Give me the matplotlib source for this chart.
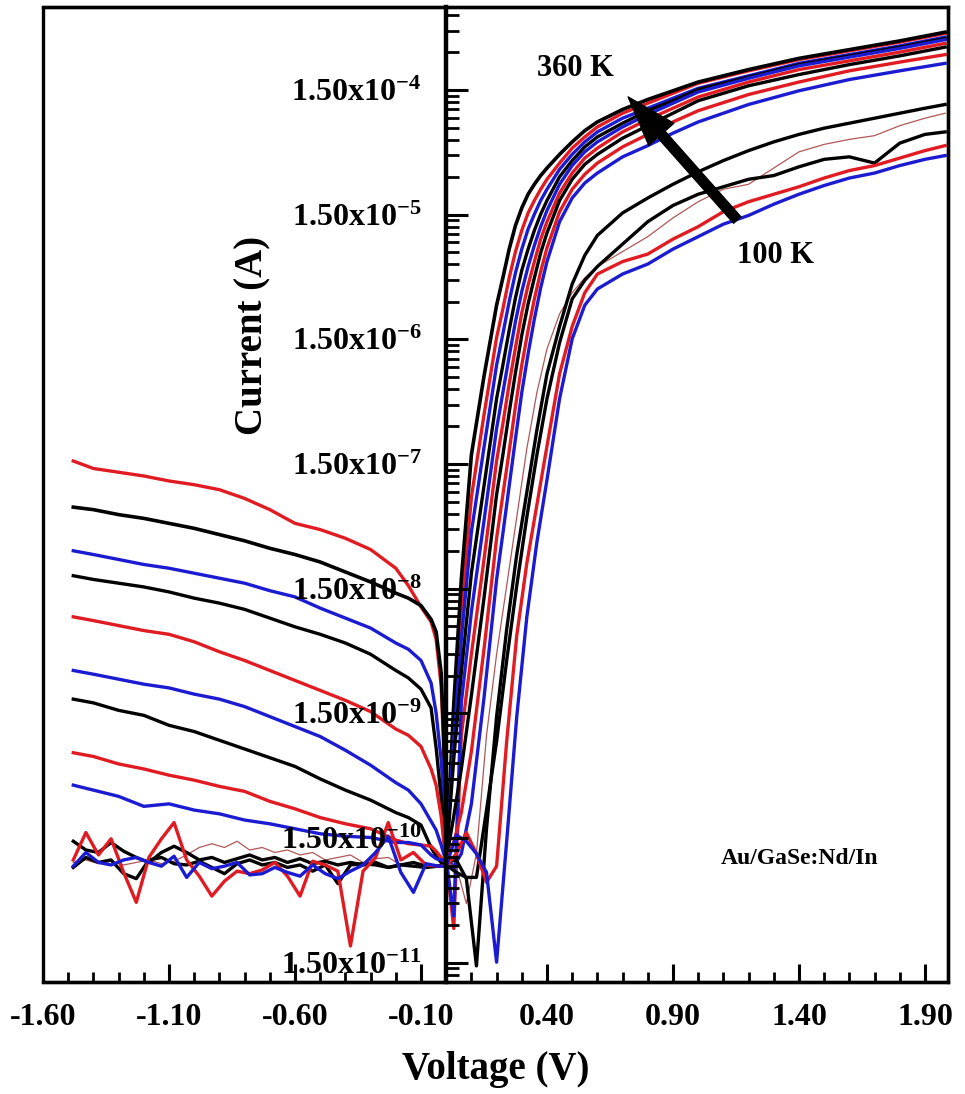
import matplotlib
matplotlib.use('Agg')
import matplotlib.pyplot as plt
from matplotlib.ticker import FixedLocator, MultipleLocator, NullFormatter

plt.rcParams['font.family'] = ['Liberation Serif', 'DejaVu Serif']
plt.rcParams['font.weight'] = 'bold'
plt.rcParams['mathtext.fontset'] = 'custom'
plt.rcParams['mathtext.rm'] = 'Liberation Serif:bold'
plt.rcParams['mathtext.bf'] = 'Liberation Serif:bold'
plt.rcParams['mathtext.it'] = 'Liberation Serif:bold:italic'

# ---------------- data (currents stored as log10(I / A)) ----------------
rev_voltage = [-1.48, -1.40, -1.30, -1.20, -1.10, -1.00, -0.90, -0.80, -0.70, -0.60,
               -0.50, -0.40, -0.30, -0.20, -0.15, -0.10, -0.06, -0.04, -0.02, -0.01]
noisy_voltage = [-1.48, -1.43, -1.38, -1.33, -1.28, -1.23, -1.18, -1.13, -1.08, -1.03,
                 -0.98, -0.93, -0.88, -0.83, -0.78, -0.73, -0.68, -0.63, -0.58, -0.53,
                 -0.48, -0.43, -0.38, -0.33, -0.28, -0.23, -0.18, -0.13, -0.08, -0.03]
fwd_voltage_hi = [0.00, 0.03, 0.06, 0.10, 0.15, 0.20, 0.225, 0.25, 0.275, 0.30, 0.325,
                  0.35, 0.375, 0.40, 0.45, 0.50, 0.55, 0.60, 0.70, 0.80, 0.90, 1.00,
                  1.20, 1.40, 1.60, 1.80, 1.98]
fwd_voltage_lo = [0.00, 0.04, 0.08, 0.12, 0.16, 0.20, 0.24, 0.28, 0.32, 0.36, 0.40,
                  0.45, 0.50, 0.55, 0.60, 0.70, 0.80, 0.90, 1.00, 1.10, 1.20, 1.30,
                  1.40, 1.50, 1.60, 1.70, 1.80, 1.90, 1.98]

c1_rev = [-6.80, -6.86, -6.89, -6.92, -6.96, -6.99, -7.03, -7.10, -7.19, -7.30,
          -7.35, -7.42, -7.51, -7.66, -7.80, -7.97, -8.09, -8.23, -8.60, -9.10]
c2_rev = [-7.17, -7.19, -7.23, -7.26, -7.30, -7.34, -7.39, -7.44, -7.50, -7.55,
          -7.61, -7.69, -7.77, -7.86, -7.90, -7.96, -8.07, -8.17, -8.50, -9.00]
c3_rev = [-7.52, -7.55, -7.59, -7.63, -7.66, -7.70, -7.74, -7.78, -7.84, -7.89,
          -7.98, -8.06, -8.14, -8.26, -8.31, -8.40, -8.58, -8.82, -9.20, -9.50]
c4_rev = [-7.72, -7.75, -7.78, -7.81, -7.85, -7.90, -7.94, -7.99, -8.06, -8.13,
          -8.19, -8.26, -8.35, -8.48, -8.54, -8.63, -8.78, -9.10, -9.50, -9.75]
c5_rev = [-8.05, -8.08, -8.12, -8.16, -8.19, -8.25, -8.33, -8.40, -8.48, -8.56,
          -8.64, -8.72, -8.81, -8.95, -9.00, -9.09, -9.27, -9.40, -9.65, -9.85]
c6_rev = [-8.48, -8.51, -8.55, -8.59, -8.62, -8.67, -8.71, -8.77, -8.85, -8.93,
          -9.01, -9.12, -9.24, -9.38, -9.44, -9.55, -9.69, -9.76, -9.88, -9.95]
c7_rev = [-8.71, -8.74, -8.80, -8.84, -8.92, -8.97, -9.04, -9.11, -9.18, -9.25,
          -9.35, -9.44, -9.52, -9.62, -9.66, -9.72, -9.90, -9.97, -10.02, -10.05]
c8_rev = [-9.14, -9.17, -9.23, -9.27, -9.32, -9.36, -9.41, -9.45, -9.53, -9.59,
          -9.66, -9.71, -9.75, -9.84, -9.87, -9.88, -9.89, -9.93, -9.98, -10.00]
c9_rev = [-9.40, -9.44, -9.49, -9.57, -9.55, -9.60, -9.63, -9.68, -9.71, -9.75,
          -9.79, -9.81, -9.82, -9.86, -9.86, -9.88, -9.96, -9.99, -10.00, -10.00]

c10_rev = [-9.85, -9.92, -9.94, -9.86, -9.93, -9.98, -10.02, -9.94, -9.89, -9.94,
           -10.00, -9.98, -10.02, -9.99, -9.96, -10.00, -9.98, -10.02, -9.99, -10.03,
           -10.01, -10.04, -10.02, -10.04, -10.02, -10.06, -10.04, -10.05, -10.06, -10.05]
c11_rev = [-10.02, -10.00, -10.03, -10.01, -10.04, -10.02, -10.00, -10.03, -10.01, -9.96,
           -9.90, -9.87, -9.90, -9.85, -9.92, -9.90, -9.94, -9.92, -9.96, -9.94,
           -10.00, -9.98, -9.96, -10.02, -9.99, -9.98, -10.04, -10.02, -10.04, -10.04]
c12_rev = [-10.06, -9.98, -10.02, -10.00, -10.11, -10.15, -10.00, -9.98, -10.03, -10.04,
           -10.01, -10.06, -10.11, -10.03, -10.00, -10.04, -10.02, -10.06, -10.04, -10.09,
           -10.04, -10.19, -10.04, -10.03, -10.04, -10.06, -10.04, -10.02, -10.05, -10.05]
c13_rev = [-10.00, -9.78, -9.96, -9.83, -10.10, -10.34, -9.98, -9.83, -9.70, -10.00,
           -10.13, -10.29, -10.17, -10.09, -10.11, -10.08, -10.02, -10.13, -10.29, -10.01,
           -10.04, -10.09, -10.69, -10.09, -9.98, -9.70, -10.00, -9.94, -10.04, -10.05]
c14_rev = [-10.05, -9.94, -10.02, -10.04, -10.00, -9.98, -10.02, -10.05, -9.97, -10.14,
           -10.02, -10.07, -10.05, -10.02, -10.12, -10.11, -10.06, -10.10, -10.13, -10.04,
           -10.11, -10.15, -10.09, -10.04, -9.94, -9.81, -10.10, -10.26, -10.03, -10.05]

c1_fwd = [-10.0, -8.91, -8.01, -7.09, -6.43, -5.81, -5.58, -5.33, -5.12, -4.95, -4.81,
          -4.71, -4.62, -4.54, -4.41, -4.29, -4.20, -4.12, -4.01, -3.93, -3.85, -3.77,
          -3.67, -3.58, -3.51, -3.44, -3.37]
c2_fwd = [-10.0, -8.75, -7.75, -6.75, -6.12, -5.55, -5.33, -5.10, -4.91, -4.77, -4.66,
          -4.58, -4.51, -4.45, -4.34, -4.24, -4.15, -4.08, -3.98, -3.90, -3.83, -3.76,
          -3.66, -3.57, -3.50, -3.43, -3.36]
c3_fwd = [-10.0, -9.04, -8.23, -7.37, -6.69, -6.03, -5.78, -5.52, -5.29, -5.10, -4.94,
          -4.82, -4.71, -4.62, -4.46, -4.34, -4.24, -4.16, -4.05, -3.97, -3.89, -3.81,
          -3.71, -3.61, -3.54, -3.47, -3.40]
c4_fwd = [-10.0, -9.19, -8.50, -7.70, -7.00, -6.30, -6.03, -5.75, -5.49, -5.27, -5.10,
          -4.95, -4.82, -4.71, -4.52, -4.39, -4.28, -4.20, -4.09, -3.99, -3.91, -3.82,
          -3.72, -3.62, -3.55, -3.48, -3.41]
c5_fwd = [-10.0, -10.55, -9.00, -8.35, -7.59, -6.80, -6.50, -6.18, -5.89, -5.61, -5.39,
          -5.20, -5.02, -4.88, -4.65, -4.49, -4.37, -4.29, -4.16, -4.06, -3.97, -3.88,
          -3.76, -3.66, -3.59, -3.52, -3.45]
c6_fwd = [-10.0, -10.45, -8.74, -8.01, -7.28, -6.54, -6.25, -5.96, -5.68, -5.44, -5.24,
          -5.07, -4.92, -4.79, -4.58, -4.43, -4.32, -4.24, -4.12, -4.02, -3.93, -3.84,
          -3.73, -3.63, -3.56, -3.49, -3.42]
c7_fwd = [-10.0, -9.65, -9.27, -8.68, -7.90, -7.07, -6.75, -6.41, -6.09, -5.79, -5.54,
          -5.33, -5.13, -4.97, -4.71, -4.54, -4.42, -4.34, -4.21, -4.11, -4.01, -3.91,
          -3.79, -3.70, -3.62, -3.55, -3.48]
c8_fwd = [-10.0, -9.86, -9.62, -9.13, -8.31, -7.42, -7.07, -6.72, -6.36, -6.03, -5.75,
          -5.50, -5.28, -5.09, -4.80, -4.62, -4.50, -4.41, -4.28, -4.18, -4.08, -3.99,
          -3.86, -3.76, -3.67, -3.60, -3.54]
c9_fwd = [-10.0, -10.05, -9.95, -9.55, -8.70, -7.75, -7.38, -7.00, -6.62, -6.25, -5.94,
          -5.66, -5.41, -5.20, -4.88, -4.69, -4.57, -4.49, -4.36, -4.27, -4.17, -4.08,
          -3.94, -3.83, -3.74, -3.67, -3.61]

c10_fwd = [-10.02, -10.0, -10.15, -10.85, -9.75, -8.85, -8.15, -7.55, -7.05, -6.55, -6.10,
           -5.72, -5.38, -5.15, -4.99, -4.81, -4.69, -4.58, -4.48, -4.39, -4.31, -4.24,
           -4.18, -4.13, -4.09, -4.05, -4.01, -3.97, -3.94]
c11_fwd = [-10.03, -10.05, -10.35, -9.95, -9.00, -8.35, -7.80, -7.25, -6.70, -6.25, -5.90,
           -5.62, -5.45, -5.33, -5.24, -5.12, -5.00, -4.85, -4.72, -4.62, -4.58, -4.45,
           -4.32, -4.26, -4.22, -4.19, -4.11, -4.05, -4.01]
c12_fwd = [-10.04, -10.10, -10.14, -10.14, -9.60, -9.05, -8.40, -7.80, -7.25, -6.75, -6.30,
           -5.85, -5.50, -5.35, -5.24, -5.06, -4.88, -4.75, -4.66, -4.60, -4.54, -4.51,
           -4.44, -4.38, -4.36, -4.41, -4.25, -4.18, -4.16]
c13_fwd = [-10.05, -9.95, -9.78, -9.95, -10.18, -10.05, -9.05, -8.20, -7.62, -7.15, -6.68,
           -6.10, -5.72, -5.45, -5.30, -5.20, -5.14, -5.02, -4.92, -4.80, -4.72, -4.66,
           -4.60, -4.53, -4.47, -4.43, -4.37, -4.31, -4.27]
c14_fwd = [-10.05, -9.80, -9.85, -9.95, -10.10, -10.82, -9.85, -8.85, -8.05, -7.45, -6.95,
           -6.30, -5.82, -5.55, -5.42, -5.30, -5.22, -5.10, -5.00, -4.90, -4.83, -4.74,
           -4.66, -4.59, -4.53, -4.49, -4.43, -4.38, -4.35]

xtick_values = [-1.60, -1.10, -0.60, -0.10, 0.40, 0.90, 1.40, 1.90]
xtick_labels = ['-1.60', '-1.10', '-0.60', '-0.10', '0.40', '0.90', '1.40', '1.90']
ytick_values = [1.5e-11, 1.5e-10, 1.5e-9, 1.5e-8, 1.5e-7, 1.5e-6, 1.5e-5, 1.5e-4]
ytick_labels = ['1.50x10$^{-11}$', '1.50x10$^{-10}$', '1.50x10$^{-9}$', '1.50x10$^{-8}$',
                '1.50x10$^{-7}$', '1.50x10$^{-6}$', '1.50x10$^{-5}$', '1.50x10$^{-4}$']

RED = '#e11b22'
BLUE = '#1b1bd1'
BLACK = '#000000'
PINK = '#b05858'

curves = [
    (rev_voltage, c1_rev, fwd_voltage_hi, c1_fwd, RED, 2.4),
    (rev_voltage, c2_rev, fwd_voltage_hi, c2_fwd, BLACK, 2.6),
    (rev_voltage, c3_rev, fwd_voltage_hi, c3_fwd, BLUE, 2.4),
    (rev_voltage, c4_rev, fwd_voltage_hi, c4_fwd, BLACK, 2.4),
    (rev_voltage, c5_rev, fwd_voltage_hi, c5_fwd, RED, 2.4),
    (rev_voltage, c6_rev, fwd_voltage_hi, c6_fwd, BLUE, 2.4),
    (rev_voltage, c7_rev, fwd_voltage_hi, c7_fwd, BLACK, 2.4),
    (rev_voltage, c8_rev, fwd_voltage_hi, c8_fwd, RED, 2.4),
    (rev_voltage, c9_rev, fwd_voltage_hi, c9_fwd, BLUE, 2.4),
    (noisy_voltage, c11_rev, fwd_voltage_lo, c11_fwd, PINK, 0.9),
    (noisy_voltage, c10_rev, fwd_voltage_lo, c10_fwd, BLACK, 2.4),
    (noisy_voltage, c12_rev, fwd_voltage_lo, c12_fwd, BLACK, 2.4),
    (noisy_voltage, c13_rev, fwd_voltage_lo, c13_fwd, RED, 2.4),
    (noisy_voltage, c14_rev, fwd_voltage_lo, c14_fwd, BLUE, 2.4),
]

# ---------------- figure ----------------
fig = plt.figure(figsize=(9.65, 10.94), dpi=100)
ax = fig.add_axes([0.0446, 0.1024, 0.9374, 0.8912])

for rv, rl, fv, fl, col, lw in curves:
    v = list(rv) + list(fv)
    cur = [10.0 ** x for x in list(rl) + list(fl)]
    ax.plot(v, cur, color=col, lw=lw, solid_joinstyle='round')

ax.set_yscale('log')
ax.set_xlim(-1.60, 1.99)
ax.set_ylim(1.05e-11, 6.95e-4)

# frame: full box from the axes patch, y-axis spine moved to V = 0
ax.patch.set_edgecolor('black')
ax.patch.set_linewidth(2.4)
for s in ax.spines.values():
    s.set_linewidth(2.4)
ax.spines['left'].set_position(('data', 0))
ax.spines['left'].set_linewidth(3.2)
ax.set_axisbelow(False)

ax.set_xticks(xtick_values, xtick_labels)
ax.xaxis.set_minor_locator(MultipleLocator(0.1))
ax.set_yticks(ytick_values, ytick_labels)
minor_y = [1.5 * k * 10.0 ** n for n in range(-12, -3) for k in range(2, 10)]
ax.yaxis.set_minor_locator(FixedLocator(minor_y))
ax.yaxis.set_minor_formatter(NullFormatter())

ax.tick_params(axis='x', which='major', direction='in', length=13, width=2.2,
               pad=15, labelsize=23, top=False)
ax.tick_params(axis='x', which='minor', direction='in', length=7, width=2.0, top=False)
ax.tick_params(axis='y', which='major', direction='in', length=16, width=2.2,
               pad=18, labelsize=23, left=True, right=False)
ax.tick_params(axis='y', which='minor', direction='in', length=9, width=2.0,
               left=True, right=False)

ax.set_xlabel('Voltage (V)', fontsize=28, fontweight='bold', labelpad=14)
ax.text(0.232, 0.663, 'Current (A)', rotation=90, fontsize=28, fontweight='bold',
        ha='center', va='center', transform=ax.transAxes)

ax.annotate('', xy=(0.722, 1.32e-4), xytext=(1.155, 1.36e-5),
            arrowprops=dict(arrowstyle='simple,head_length=1.8,head_width=1.2,tail_width=0.35',
                            color='black', mutation_scale=20, shrinkA=0, shrinkB=0))
ax.text(0.512, 2.25e-4, '360 K', fontsize=22, fontweight='bold', ha='center', va='center')
ax.text(1.306, 7.0e-6, '100 K', fontsize=22, fontweight='bold', ha='center', va='center')
ax.text(1.401, 1.02e-10, 'Au/GaSe:Nd/In', fontsize=17, fontweight='bold',
        ha='center', va='center')

fig.savefig('out.png', dpi=100)
